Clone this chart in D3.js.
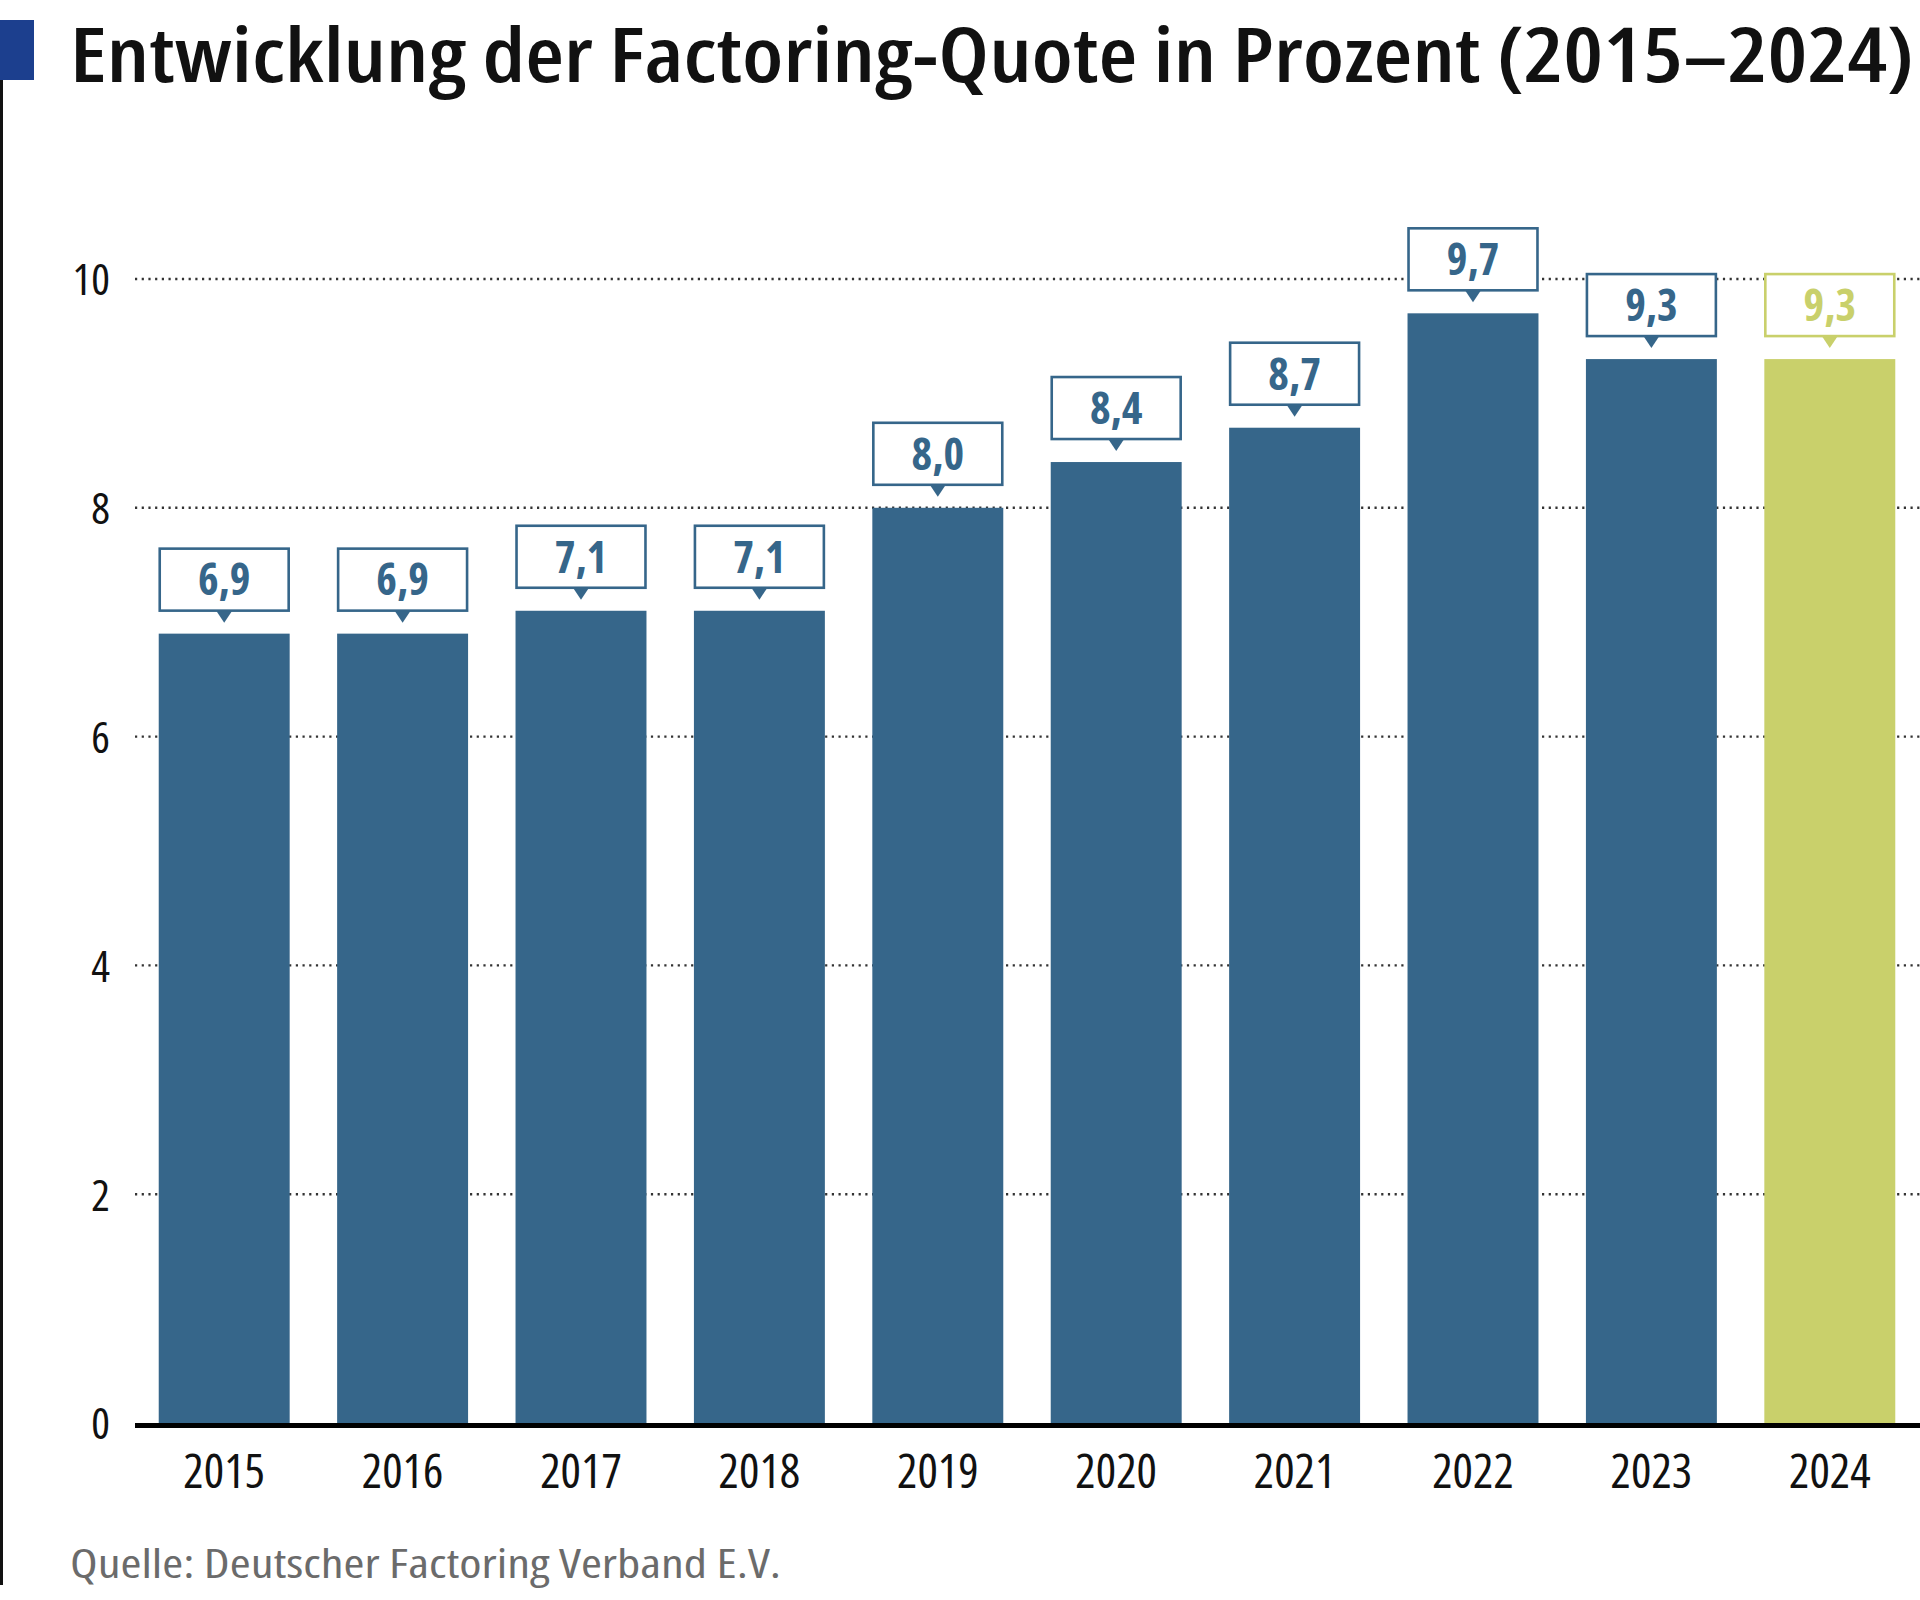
<!DOCTYPE html>
<html>
<head>
<meta charset="utf-8">
<script src="https://cdn.jsdelivr.net/npm/d3@7"></script>
<style>
  body { margin: 0; background: #fff; }
  svg text { font-family: "Open Sans", "Liberation Sans Narrow", "DejaVu Sans Condensed", Roboto, sans-serif; font-stretch: 75%; }
</style>
</head>
<body>
<svg id="chart"></svg>
<script>
// Factoring-Quote in Prozent, Deutscher Factoring Verband
const years = ["2015", "2016", "2017", "2018", "2019", "2020", "2021", "2022", "2023", "2024"];
const quote = [6.9, 6.9, 7.1, 7.1, 8.0, 8.4, 8.7, 9.7, 9.3, 9.3];
const yTicks = [0, 2, 4, 6, 8, 10];
const highlightYear = "2024";

const titleText = "Entwicklung der Factoring-Quote in Prozent (2015–2024)";
const sourceText = "Quelle: Deutscher Factoring Verband E.V.";

const w = 1920;
const h = 1600;
const blue = "#36668a";
const olive = "#c9d06b";

const de = d3.formatLocale({ decimal: ",", thousands: ".", grouping: [3], currency: ["", " €"] });
const fmt = de.format(".1f");

const data = years.map((y, i) => ({ year: y, value: quote[i] }));

const svg = d3.select("#chart").attr("width", w).attr("height", h);

const xScale = d3.scaleBand().domain(years).range([135, 1919]).paddingInner(0.266).paddingOuter(0.133);
const yScale = d3.scaleLinear().domain([0, 10]).range([1423, 279]);

// header: blue marker, rule on the left, title
svg.append("rect").attr("x", 0).attr("y", 20).attr("width", 34).attr("height", 60).attr("fill", "#1c3f8e");
svg.append("rect").attr("x", 0).attr("y", 80).attr("width", 3).attr("height", 1505).attr("fill", "#111");

svg
  .append("text")
  .attr("x", 70)
  .attr("y", 82)
  .attr("font-size", 76)
  .attr("font-weight", 600)
  .attr("fill", "#111")
  .attr("textLength", 1844)
  .attr("lengthAdjust", "spacingAndGlyphs")
  .text(titleText);

// dotted gridlines + y labels
const yAxis = d3.axisLeft(yScale).tickValues(yTicks).tickSize(0).tickPadding(0);
const gy = svg.append("g").attr("transform", "translate(110,0)").call(yAxis);
gy.select(".domain").remove();
gy.selectAll("text").attr("font-size", 44).attr("fill", "#111").attr("dy", "0.36em");

svg
  .append("g")
  .selectAll("line")
  .data(yTicks.filter((t) => t > 0))
  .enter()
  .append("line")
  .attr("x1", 135)
  .attr("x2", w)
  .attr("y1", (d) => yScale(d))
  .attr("y2", (d) => yScale(d))
  .attr("stroke", "#333")
  .attr("stroke-width", 2.4)
  .attr("stroke-dasharray", "2.2 4.5");

// bars
svg
  .selectAll(".bar")
  .data(data)
  .enter()
  .append("rect")
  .attr("class", "bar")
  .attr("x", (d) => xScale(d.year))
  .attr("y", (d) => yScale(d.value))
  .attr("width", xScale.bandwidth())
  .attr("height", (d) => yScale(0) - yScale(d.value))
  .attr("fill", (d) => (d.year === highlightYear ? olive : blue));

// value callouts
const boxH = 62;
const gap = 23;
const tri = 8;
const labels = svg
  .selectAll(".callout")
  .data(data)
  .enter()
  .append("g")
  .attr("class", "callout")
  .attr("transform", (d) => `translate(${xScale(d.year)},${yScale(d.value) - gap - boxH})`);

labels
  .append("path")
  .attr("d", (d) => {
    const c = xScale.bandwidth() / 2;
    return `M${c - tri},${boxH} L${c + tri},${boxH} L${c},${boxH + 12} Z`;
  })
  .attr("fill", (d) => (d.year === highlightYear ? olive : blue));

labels
  .append("rect")
  .attr("x", 1)
  .attr("y", 0)
  .attr("width", xScale.bandwidth() - 2)
  .attr("height", boxH)
  .attr("fill", "#fff")
  .attr("stroke", (d) => (d.year === highlightYear ? olive : blue))
  .attr("stroke-width", 2.6);

labels
  .append("text")
  .attr("x", xScale.bandwidth() / 2)
  .attr("y", boxH / 2)
  .attr("dy", "0.36em")
  .attr("text-anchor", "middle")
  .attr("font-size", 44)
  .attr("font-weight", 700)
  .attr("fill", (d) => (d.year === highlightYear ? olive : blue))
  .text((d) => fmt(d.value));

// baseline + year labels
const xAxis = d3.axisBottom(xScale).tickSize(0).tickPadding(0);
const gx = svg.append("g").attr("transform", `translate(0,${yScale(0)})`).call(xAxis);
gx.select(".domain").remove();
gx.selectAll("text").attr("font-size", 48).attr("fill", "#111").attr("dy", null).attr("y", 65);

svg
  .append("line")
  .attr("x1", 135)
  .attr("x2", w)
  .attr("y1", yScale(0) + 2.5)
  .attr("y2", yScale(0) + 2.5)
  .attr("stroke", "#000")
  .attr("stroke-width", 5);

// source
svg
  .append("text")
  .attr("x", 70)
  .attr("y", 1578)
  .attr("font-size", 40)
  .attr("font-weight", 500)
  .attr("fill", "#6b6b6b")
  .attr("textLength", 711)
  .attr("lengthAdjust", "spacingAndGlyphs")
  .text(sourceText);
</script>
</body>
</html>
